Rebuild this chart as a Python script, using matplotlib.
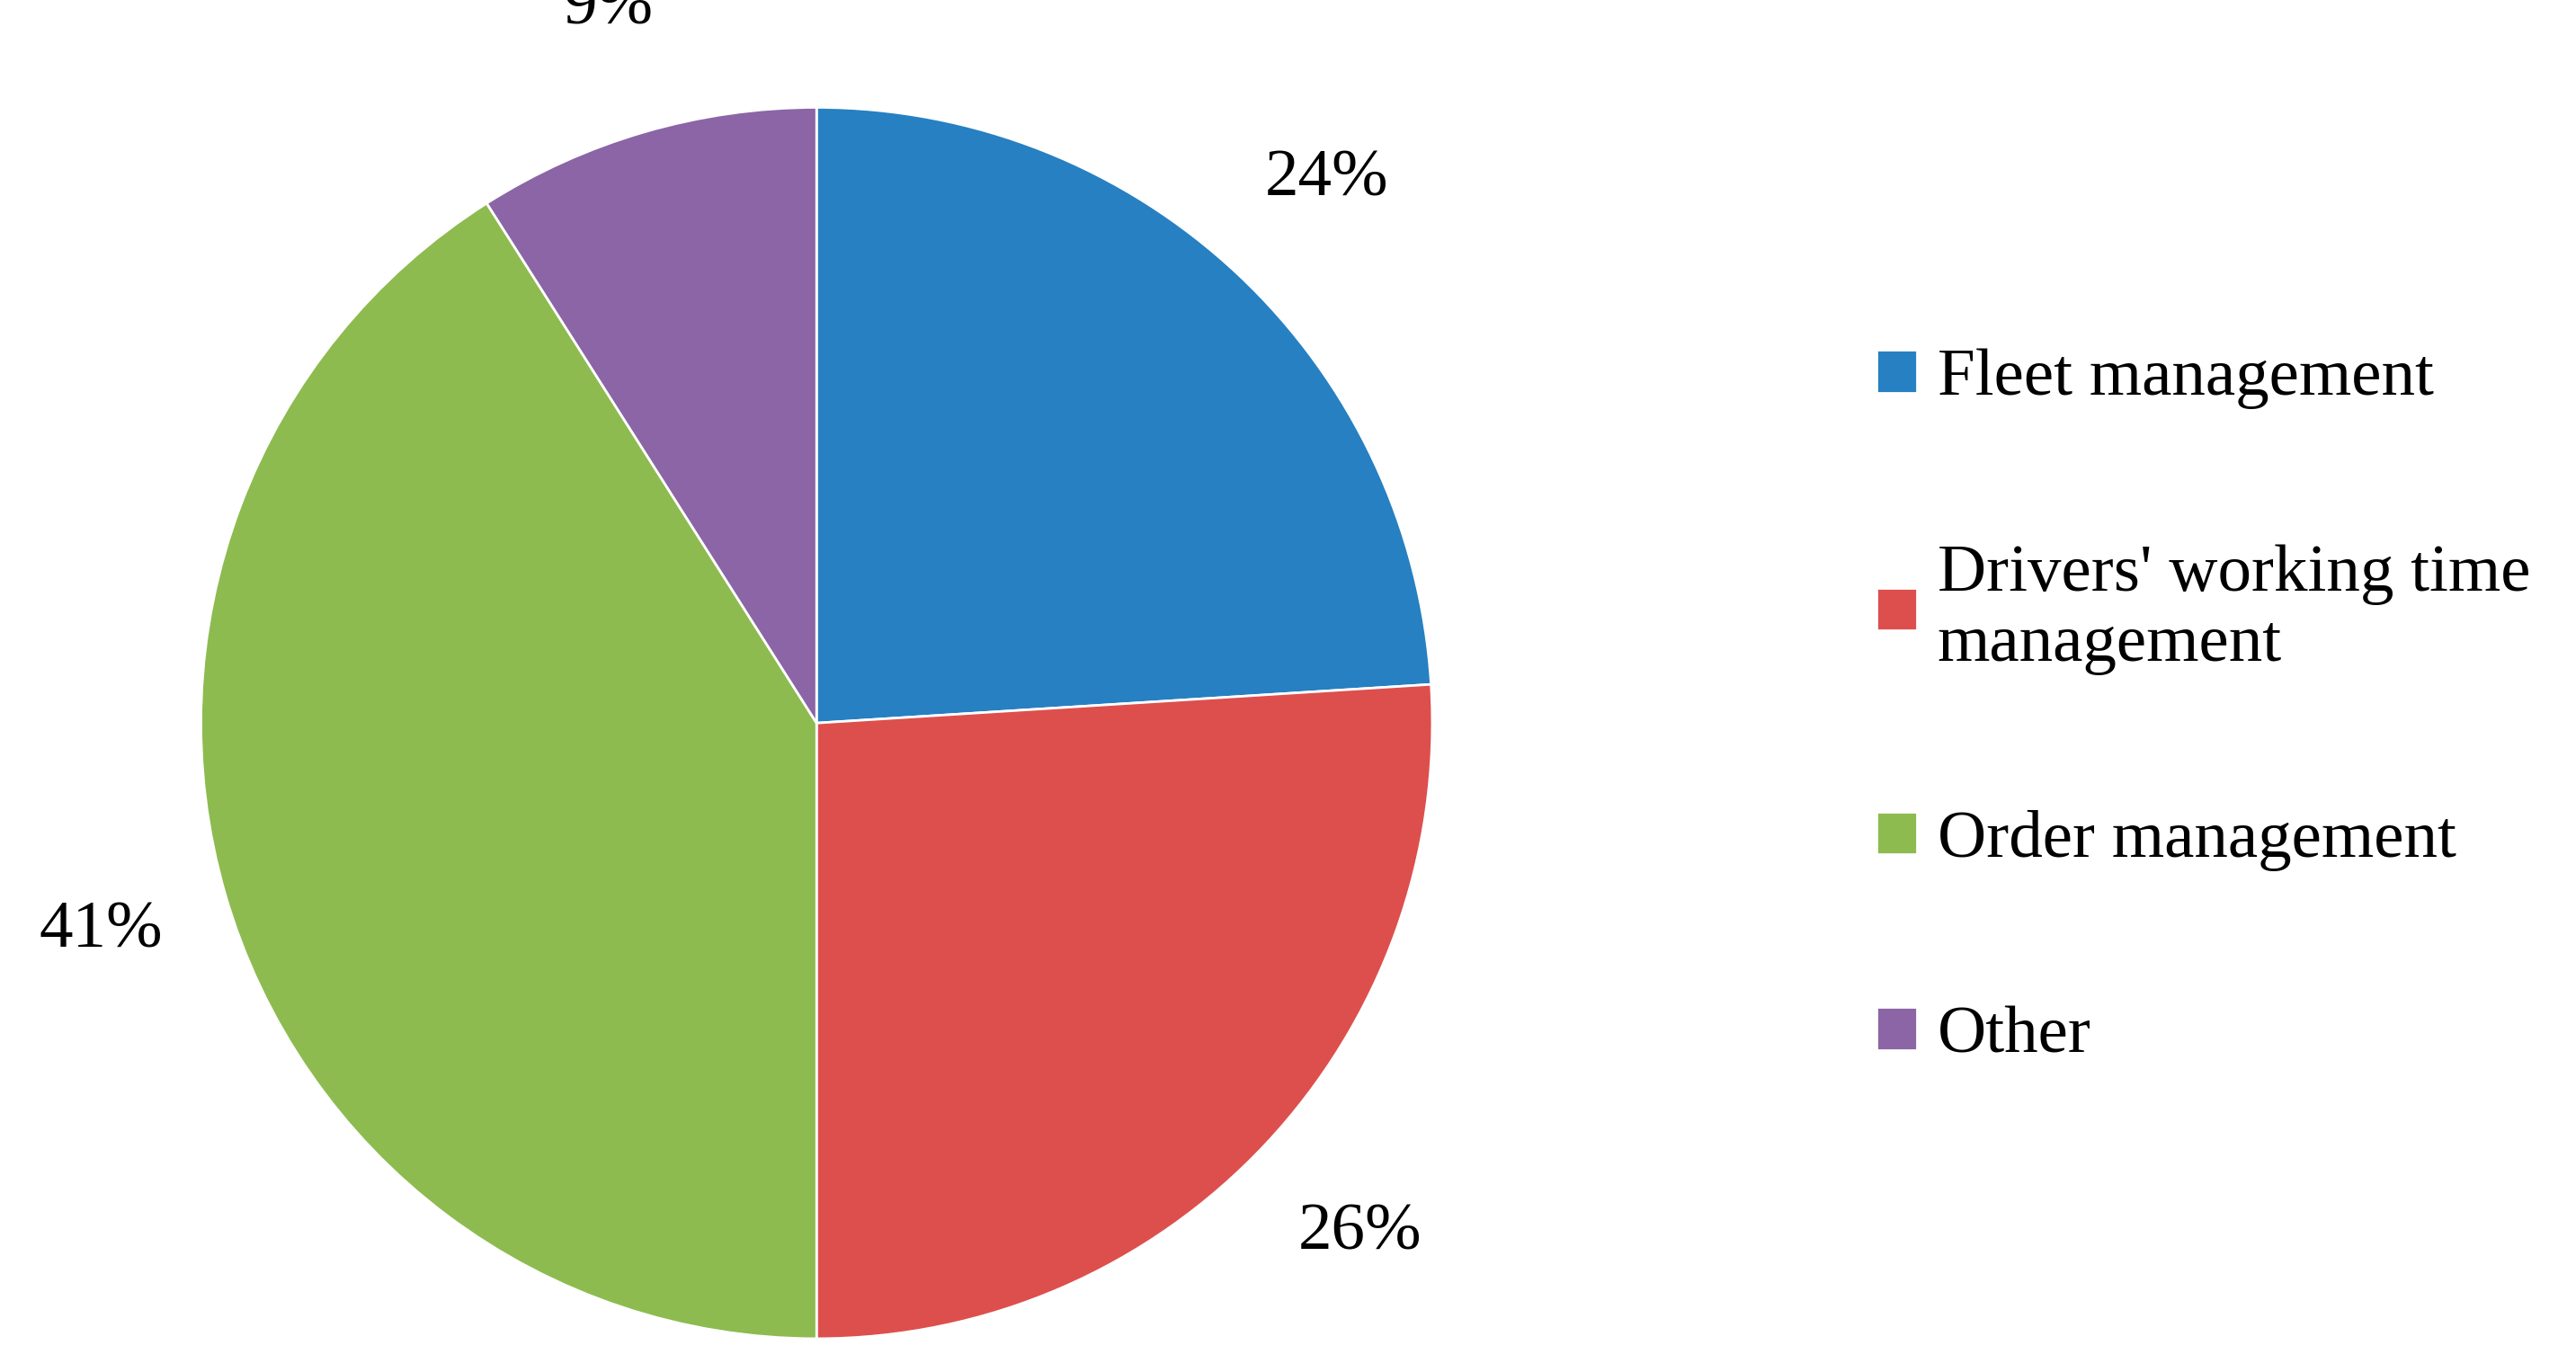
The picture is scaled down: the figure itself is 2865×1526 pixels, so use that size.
import matplotlib.pyplot as plt

plt.rcParams['font.family'] = ['Liberation Serif', 'DejaVu Serif']

labels = ['Fleet management', "Drivers' working time\nmanagement", 'Order management', 'Other']
values = [24, 26, 41, 9]
colors = ['#2680C2', '#DD4F4D', '#8DBB50', '#8B65A6']

fig = plt.figure(figsize=(28.65, 15.26), dpi=100)
ax = fig.add_axes([0.078, 0.024, 0.478, 0.898])
wedges, texts, autotexts = ax.pie(values, colors=colors, startangle=90, counterclock=False,
                                  autopct='%d%%', pctdistance=1.21,
                                  wedgeprops=dict(edgecolor='white', linewidth=2))
for t in autotexts:
    t.set_fontsize(54)
ax.set_xlim(-1, 1)
ax.set_ylim(-1, 1)
ax.set_aspect('equal')

fig.legend(wedges, labels, loc='upper left', bbox_to_anchor=(0.705, 0.79),
           frameon=False, fontsize=54, handlelength=0.6, handleheight=0.6,
           handletextpad=0.3, labelspacing=2.0)

fig.savefig('out.png')
